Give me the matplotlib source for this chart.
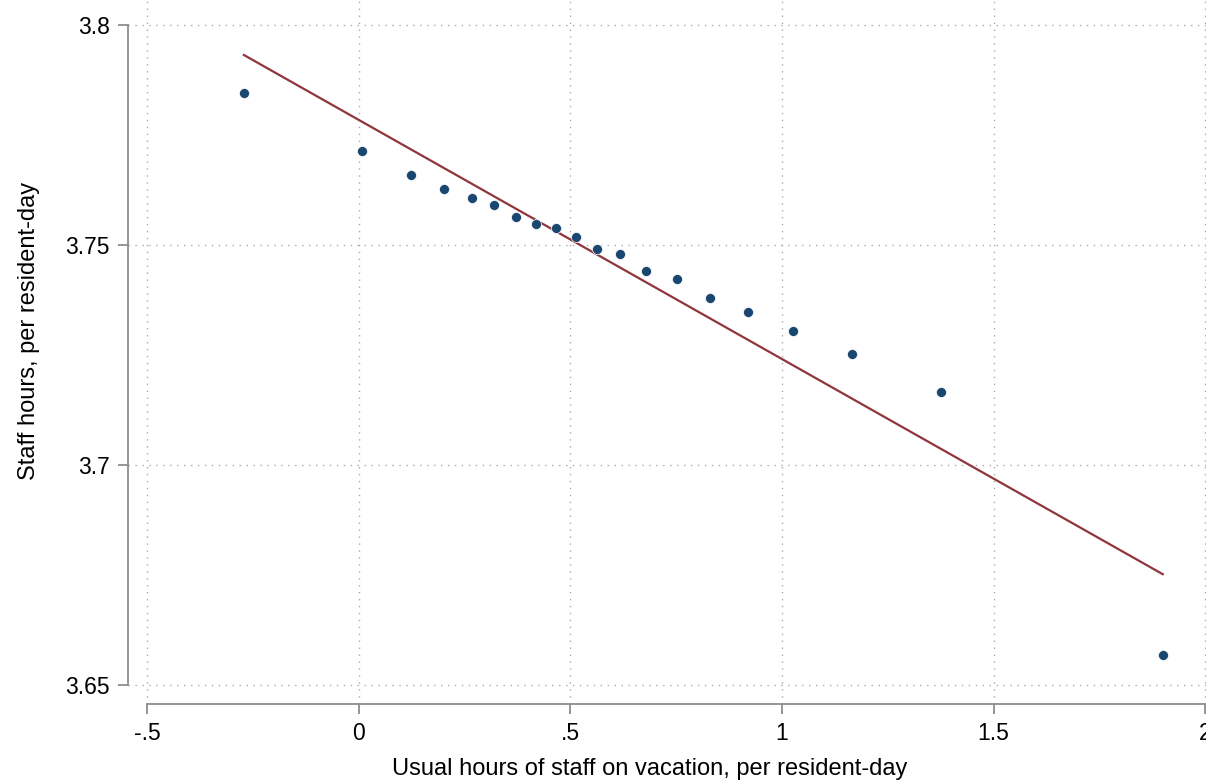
import matplotlib.pyplot as plt
import numpy as np

plt.rcParams['font.family'] = ['Liberation Sans', 'DejaVu Sans']

# binned means
bin_x = np.array([-0.272, 0.007, 0.123, 0.201, 0.267, 0.319, 0.371, 0.418, 0.466, 0.513,
                  0.563, 0.617, 0.678, 0.752, 0.830, 0.920, 1.026, 1.165, 1.376, 1.901])
bin_y = np.array([3.7845, 3.7714, 3.7659, 3.7627, 3.7607, 3.7591, 3.7564, 3.7548, 3.7539, 3.7518,
                  3.7491, 3.7480, 3.7441, 3.7423, 3.7380, 3.7348, 3.7305, 3.7252, 3.7166, 3.6568])

# linear fit endpoints
fit_x = np.array([-0.272, 1.900])
fit_y = np.array([3.7932, 3.6752])

xticks = [-0.5, 0, 0.5, 1, 1.5, 2]
xticklabels = ["-.5", "0", ".5", "1", "1.5", "2"]
yticks = [3.65, 3.7, 3.75, 3.8]
yticklabels = ["3.65", "3.7", "3.75", "3.8"]

fig = plt.figure(figsize=(12.06, 7.84), dpi=100)
ax = fig.add_axes([128 / 1206, 80 / 784, 1102 / 1206, 704 / 784])

ax.plot(fit_x, fit_y, color='#90353b', linewidth=1.6, zorder=3)
ax.scatter(bin_x, bin_y, s=52, color='#1a476f', edgecolors='white', linewidths=0.5, zorder=4)

ax.set_xlim(-0.546, 2.059)
ax.set_ylim(3.6457, 3.8057)

ax.set_xticks(xticks)
ax.set_xticklabels(xticklabels)
ax.set_yticks(yticks)
ax.set_yticklabels(yticklabels)

ax.grid(True, color='#aaaaaa', linestyle=(0, (1, 4)), linewidth=1.0)
ax.set_axisbelow(True)

for s in ['top', 'right']:
    ax.spines[s].set_visible(False)
ax.spines['left'].set_bounds(3.65, 3.8)
ax.spines['bottom'].set_bounds(-0.5, 2)
for s in ['left', 'bottom']:
    ax.spines[s].set_color('#8c8c8c')
    ax.spines[s].set_linewidth(1.3)

ax.tick_params(axis='both', colors='#8c8c8c', length=7, width=1.3, labelsize=16.5,
               labelcolor='black', pad=6)

ax.set_xlabel("Usual hours of staff on vacation, per resident-day", fontsize=17)
ax.set_ylabel("Staff hours, per resident-day", fontsize=17)
ax.xaxis.set_label_coords(0.4737, -0.0767)
ax.yaxis.set_label_coords(-0.0799, 0.530)

fig.savefig("out.png", dpi=100)
